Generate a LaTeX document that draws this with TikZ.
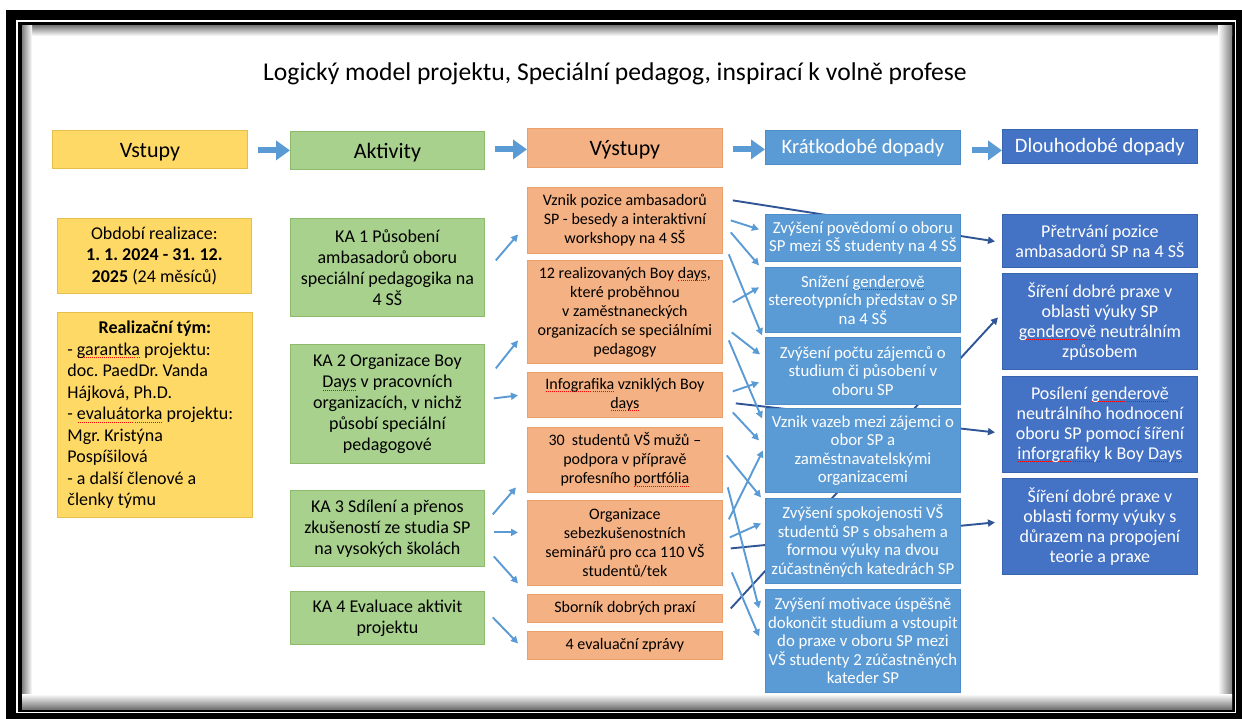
\documentclass[tikz,border=0pt]{standalone}
\usepackage{fontspec}
\setmainfont{Carlito}
\usetikzlibrary{arrows.meta,calc}
\frenchspacing
\definecolor{cyel}{HTML}{FFD966}
\definecolor{cyelb}{HTML}{E6BE4A}
\definecolor{cgrn}{HTML}{A9D18E}
\definecolor{cgrnb}{HTML}{8DBB6E}
\definecolor{corg}{HTML}{F4B183}
\definecolor{corgb}{HTML}{E9A06C}
\definecolor{cblu}{HTML}{5B9BD5}
\definecolor{cblub}{HTML}{4E8DC8}
\definecolor{cdbl}{HTML}{4472C4}
\definecolor{cdblb}{HTML}{3A63AE}
\definecolor{cline}{HTML}{5B9BD5}
\definecolor{cdark}{HTML}{2F5597}
\newcommand\spell[1]{\setbox0\hbox{#1}\leavevmode\rlap{\raisebox{-3pt}{\textcolor{red}{\hbox to \wd0{\xleaders\hbox to 2pt{\hss\vrule width 1pt height 1pt\hss}\hfill}}}}\box0\relax}
\newcommand\myTitF{\fontsize{25.6}{30}\selectfont}
\newcommand\myHdrF{\fontsize{22}{26}\selectfont}
\newcommand\myHdwF{\fontsize{20.5}{24}\selectfont}
\newcommand\myInF{\fontsize{18}{21.5}\selectfont}
\newcommand\myActF{\fontsize{18}{21}\selectfont}
\newcommand\myOutF{\fontsize{16}{19}\selectfont}
\newcommand\myStF{\fontsize{16.8}{18.5}\selectfont}
\newcommand\myLtF{\fontsize{18}{20}\selectfont}
\begin{document}
\begin{tikzpicture}[x=1pt,y=-1pt,
  box/.style={anchor=north west, align=center, inner sep=2pt, line width=0.8pt},
  yel/.style={box, fill=cyel, draw=cyelb},
  grn/.style={box, fill=cgrn, draw=cgrnb, font=\myActF, minimum width=194pt},
  org/.style={box, fill=corg, draw=corgb, font=\myOutF, minimum width=195pt},
  stb/.style={box, fill=cblu, draw=cblub, text=white, font=\myStF, minimum width=195pt},
  ltb/.style={box, fill=cdbl, draw=cdblb, text=white, font=\myLtF, minimum width=195pt},
  hdr/.style={font=\myHdrF, text height=16pt, text depth=0pt},
  hdw/.style={font=\myHdwF, text height=13pt, text depth=0pt},
  harr/.style={draw=cblu, line width=6pt, -{Triangle[length=14pt,width=19pt]}},
  arr/.style={draw=cline, line width=1.9pt, -{Triangle[length=7pt,width=7pt]}},
  darr/.style={draw=cdark, line width=1.9pt, -{Triangle[length=7pt,width=7pt]}}
]
% frame
\fill[white] (0,0) rectangle (1242,719);
\fill[black] (6,10) rectangle (1242,719);
\fill[white] (16,20) rectangle (1236,713);
\fill[black] (18,22) rectangle (1235,712);
\fill[white] (22,26) rectangle (1232,709);
\shade[top color=black!50, bottom color=white] (22,26) rectangle (1232,36);
\shade[left color=black!50, right color=white] (22,26) rectangle (32,709);
\shade[left color=white, right color=black!50] (1218,26) rectangle (1232,709);
\shade[top color=white, bottom color=black!55] (22,694) rectangle (1232,709);
% title
\node[font=\myTitF] (title) at (615,74) {Logický model projektu, Speciální pedagog, inspirací k volně profese};
% headers
\node[yel, hdr, minimum width=195pt, minimum height=38pt] (hV) at (52,130) {Vstupy};
\node[grn, hdr, minimum height=38pt] (hA) at (290,131) {Aktivity};
\node[org, hdr, minimum height=39pt] (hO) at (527,128) {Výstupy};
\node[stb, hdw, minimum height=34pt] (hK) at (765,130) {Krátkodobé dopady};
\node[ltb, hdw, minimum height=34pt] (hD) at (1002,129) {Dlouhodobé dopady};
\draw[harr] ($(hV.east)+(10,1)$) -- (hA.west);
\draw[harr] ($(hA.east)+(10,-1)$) -- ($(hO.west)+(0,1.5)$);
\draw[harr] ($(hO.east)+(10,1.5)$) -- ($(hK.west)+(0,2)$);
\draw[harr] ($(hK.east)+(11,3)$) -- ($(hD.west)+(0,4)$);
% inputs
\node[yel, font=\myInF, minimum width=194pt, minimum height=75pt] (in1) at (57,218)
  {Období realizace:\\\textbf{1. 1. 2024 - 31. 12.}\\\textbf{2025} (24 měsíců)};
\node[yel, font=\myInF, minimum width=195pt, minimum height=205pt, text width=175pt, align=flush left, inner xsep=10pt] (in2) at (57,312)
  {\makebox[175pt]{\textbf{Realizační tým:}}\\- \spell{garantka} projektu:\\doc. PaedDr. Vanda\\Hájková, Ph.D.\\- \spell{evaluátorka} projektu:\\Mgr. Kristýna\\Pospíšilová\\- a další členové a\\členky týmu};
% activities
\node[grn, minimum height=98pt] (KA1) at (290,218) {KA 1 Působení\\ambasadorů oboru\\speciální pedagogika na\\4 SŠ};
\node[grn, minimum height=119pt] (KA2) at (290,344) {KA 2 Organizace Boy\\\spell{Days} v pracovních\\organizacích, v nichž\\působí speciální\\pedagogové};
\node[grn, minimum height=76pt] (KA3) at (290,490) {KA 3 Sdílení a přenos\\zkušeností ze studia SP\\na vysokých školách};
\node[grn, minimum height=53pt] (KA4) at (290,591) {KA 4 Evaluace aktivit\\projektu};
% outputs
\node[org, minimum height=66pt] (O1) at (527,187) {Vznik pozice ambasadorů\\SP - besedy a interaktivní\\workshopy na 4 SŠ};
\node[org, minimum height=103pt] (O2) at (527,260) {12 realizovaných Boy \spell{days},\\které proběhnou\\v zaměstnaneckých\\organizacích se speciálními\\pedagogy};
\node[org, minimum height=45pt] (O3) at (527,372) {\spell{Infografika} vzniklých Boy\\\spell{days}};
\node[org, minimum height=65pt] (O4) at (527,427) {30\ \ studentů VŠ mužů –\\podpora v přípravě\\profesního \spell{portfólia}};
\node[org, minimum height=85pt] (O5) at (527,500) {Organizace\\sebezkušenostních\\seminářů pro cca 110 VŠ\\studentů/tek};
\node[org, minimum height=28pt] (O6) at (527,594) {Sborník dobrých praxí};
\node[org, minimum height=28pt] (O7) at (527,631) {4 evaluační zprávy};
% long-term
\node[ltb, minimum height=53pt] (L1) at (1002,214) {Přetrvání pozice\\ambasadorů SP na 4 SŠ};
\node[ltb, minimum height=96pt] (L2) at (1002,273) {Šíření dobré praxe v\\oblasti výuky SP\\\spell{genderově} neutrálním\\způsobem};
\node[ltb, minimum height=96pt] (L3) at (1002,376) {Posílení \spell{genderově}\\neutrálního hodnocení\\oboru SP pomocí šíření\\\spell{inforgrafiky} k Boy \spell{Days}};
\node[ltb, minimum height=96pt] (L4) at (1002,478) {Šíření dobré praxe v\\oblasti formy výuky s\\důrazem na propojení\\teorie a praxe};
% dark lines outputs -> long-term (behind short-term boxes)
\draw[darr] ($(O1.east)+(10,-20)$) -- ($(L1.west)+(-7,0.5)$);
\draw[darr] ($(O3.east)+(13,8.5)$) -- ($(L3.west)+(-7,8)$);
\draw[darr] ($(O5.east)+(8,5.5)$) -- ($(L4.west)+(-7,-4)$);
\draw[darr] ($(O6.east)+(8,0)$) -- ($(L2.west)+(-4,-4)$);
% short-term
\node[stb, minimum height=47pt] (S1) at (765,214) {Zvýšení povědomí o oboru\\SP mezi SŠ studenty na 4 SŠ};
\node[stb, minimum height=65pt] (S2) at (765,267) {Snížení \spell{genderově}\\stereotypních představ o SP\\na 4 SŠ};
\node[stb, minimum height=67pt] (S3) at (765,337) {Zvýšení počtu zájemců o\\studium či působení v\\oboru SP};
\node[stb, minimum height=84pt] (S4) at (765,408) {Vznik vazeb mezi zájemci o\\obor SP a\\zaměstnavatelskými\\organizacemi};
\node[stb, minimum height=85pt] (S5) at (765,498) {Zvýšení spokojenosti VŠ\\studentů SP s obsahem a\\formou výuky na dvou\\zúčastněných katedrách SP};
\node[stb, minimum height=103pt] (S6) at (765,589) {Zvýšení motivace úspěšně\\dokončit studium a vstoupit\\do praxe v oboru SP mezi\\VŠ studenty 2 zúčastněných\\kateder SP};
% activities -> outputs
\draw[arr] ($(KA1.east)+(11,-7)$) -- ($(O1.west)+(-9,14)$);
\draw[arr] ($(KA2.east)+(11,-35.5)$) -- ($(O2.west)+(-9,28.5)$);
\draw[arr] ($(KA2.east)+(9,-5.5)$) -- ($(O3.west)+(-9,0.5)$);
\draw[arr] ($(KA3.east)+(8,-14)$) -- ($(O4.west)+(-11,27.5)$);
\draw[arr] ($(KA3.east)+(9,4)$) -- ($(O5.west)+(-9,-10.5)$);
\draw[arr] ($(KA3.east)+(9,28)$) -- ($(O5.west)+(-9,40.5)$);
\draw[arr] ($(KA4.east)+(8,-0.5)$) -- ($(O7.west)+(-9,-2)$);
% outputs -> short-term
\draw[arr] ($(O1.east)+(8,0)$) -- ($(S1.west)+(-6,-8.5)$);
\draw[arr] ($(O1.east)+(8,12)$) -- ($(S2.west)+(-6,-34.5)$);
\draw[arr] ($(O1.east)+(6,34)$) -- ($(S3.west)+(-3,-35.5)$);
\draw[arr] ($(O2.east)+(10,-9.5)$) -- ($(S2.west)+(-6,-12.5)$);
\draw[arr] ($(O2.east)+(9,20.5)$) -- ($(S3.west)+(-5,-16.5)$);
\draw[arr] ($(O2.east)+(6,28.5)$) -- ($(S4.west)+(-3,-32)$);
\draw[arr] ($(O3.east)+(10,-3.5)$) -- ($(S3.west)+(-6,11.5)$);
\draw[arr] ($(O3.east)+(10,17.5)$) -- ($(S4.west)+(-6,-10)$);
\draw[arr] ($(O4.east)+(4,-4.5)$) -- ($(S5.west)+(-4,-43.5)$);
\draw[arr] ($(O4.east)+(5,27.5)$) -- ($(S6.west)+(-6,-32.5)$);
\draw[arr] ($(O5.east)+(6,-23.5)$) -- ($(S4.west)+(-2,0)$);
\draw[arr] ($(O5.east)+(7,-5.5)$) -- ($(S5.west)+(-4,-17.5)$);
\draw[arr] ($(O5.east)+(9,29.5)$) -- ($(S6.west)+(-6,-4.5)$);
\end{tikzpicture}
\end{document}
